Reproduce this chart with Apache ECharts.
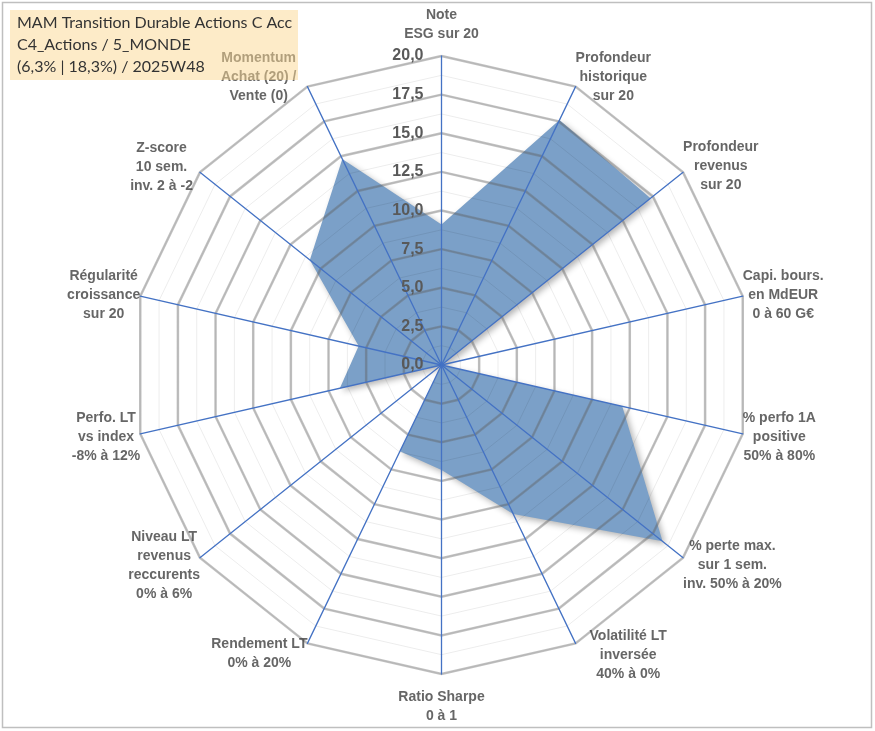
<!DOCTYPE html>
<html>
<head>
<meta charset="utf-8">
<script src="https://cdn.jsdelivr.net/npm/echarts@6/dist/echarts.min.js"></script>
<style>
html,body{margin:0;padding:0;background:#fff;}
#chart{width:875px;height:731px;}
</style>
</head>
<body>
<div id="chart"></div>
<script>
// Axes listed clockwise starting from the top
const categories = [
  'Note\nESG sur 20',
  'Profondeur\nhistorique\nsur 20',
  'Profondeur\nrevenus\nsur 20',
  'Capi. bours.\nen MdEUR\n0 à 60 G€',
  '% perfo 1A\npositive\n50% à 80%',
  '% perte max.\nsur 1 sem.\ninv. 50% à 20%',
  'Volatilité LT\ninversée\n40% à 0%',
  'Ratio Sharpe\n0 à 1',
  'Rendement LT\n0% à 20%',
  'Niveau LT\nrevenus\nreccurents\n0% à 6%',
  'Perfo. LT\nvs index\n-8% à 12%',
  'Régularité\ncroissance\nsur 20',
  'Z-score\n10 sem.\ninv. 2 à -2',
  'Momentum\nAchat (20) /\nVente (0)'
];
const scores = [9.1, 17.6, 17.3, 0, 12.0, 18.3, 10.7, 6.8, 6.2, 0, 6.75, 5.5, 10.9, 14.8];
const axisMin = 0, axisMax = 20, axisStep = 2.5;
const titleLines = ['MAM Transition Durable Actions C Acc', 'C4_Actions / 5_MONDE', '(6,3% | 18,3%) / 2025W48'];

// label layout (align, offset x, offset y) for each axis name, same order as categories
const nameLayout = [
  ['center', 0, -31], ['left', 0, -9], ['left', 0, -6], ['left', 0, -1],
  ['left', 0, 3.5], ['left', 0, 7.5], ['left', 14, 11.5], ['center', 0, 32.5],
  ['right', 0, 10.5], ['right', 0, 7.5], ['right', 0, 3.5], ['right', 0, -1.5],
  ['right', -7, -5.5], ['right', -11, -9]
];

// ECharts radar places indicators counter-clockwise: reverse all but the first
const order = [0].concat(categories.map((_, i) => i).slice(1).reverse());
const indicators = order.map(i => ({ name: categories[i], min: axisMin, max: axisMax }));
const seriesValues = order.map(i => scores[i]);
const N = categories.length;

const CX = 441.5, CY = 365, R = 309;
const FONT = 'Liberation Sans';

const radarBase = {
  center: [CX, CY], radius: R, startAngle: 90, shape: 'polygon',
  indicator: indicators,
  axisName: { show: false },
  axisTick: { show: false }, axisLabel: { show: false },
  splitArea: { show: false }
};

const chart = echarts.init(document.getElementById('chart'), null, { renderer: 'canvas' });
chart.setOption({
  backgroundColor: '#ffffff',
  animation: false,
  radar: [
    Object.assign({}, radarBase, {
      z: 1, splitNumber: (axisMax - axisMin) / (axisStep / 2),
      axisLine: { show: false },
      splitLine: { lineStyle: { color: 'rgba(0,0,0,0.075)', width: 1 } }
    }),
    Object.assign({}, radarBase, {
      z: 2, splitNumber: (axisMax - axisMin) / axisStep,
      axisLine: { show: false },
      splitLine: { lineStyle: { color: 'rgba(100,100,100,0.4)', width: 2.5 } }
    }),
    Object.assign({}, radarBase, {
      z: 3, splitNumber: (axisMax - axisMin) / axisStep,
      axisLine: { show: true, lineStyle: { color: '#4472C4', width: 1.3 } },
      splitLine: { show: false }
    })
  ],
  polar: { center: [CX, CY], radius: R },
  angleAxis: { show: false, type: 'value', startAngle: 90, clockwise: true, min: 0, max: 360 },
  radiusAxis: {
    type: 'value', min: axisMin, max: axisMax, interval: axisStep, z: 4,
    axisLine: { show: false }, axisTick: { show: false }, splitLine: { show: false },
    axisLabel: {
      formatter: v => v.toFixed(1).replace('.', ','),
      fontFamily: FONT, fontWeight: 'bold', fontSize: 16, color: '#595959', margin: 18
    }
  },
  series: [
    {
      type: 'radar', radarIndex: 0, z: 0, symbol: 'none',
      lineStyle: { width: 0 },
      areaStyle: { color: '#7BA0C8', opacity: 1, shadowBlur: 6, shadowOffsetX: 3, shadowOffsetY: 3, shadowColor: 'rgba(0,0,0,0.3)' },
      data: [{ value: seriesValues }]
    },
    {
      type: 'scatter', coordinateSystem: 'polar', z: 5, symbol: 'circle', symbolSize: 1, silent: true,
      itemStyle: { color: 'rgba(0,0,0,0)' },
      data: categories.map((c, i) => ({
        name: c,
        value: [axisMax, i * 360 / N],
        label: {
          align: nameLayout[i][0], verticalAlign: 'middle',
          offset: [nameLayout[i][1], nameLayout[i][2]]
        }
      })),
      label: {
        show: true, position: 'inside',
        formatter: p => p.name.split('\n').map(l => '{c|' + l + '}').join('\n'),
        fontFamily: FONT, fontWeight: 'bold', fontSize: 14, color: '#404040', lineHeight: 19,
        rich: { c: { align: 'center', fontFamily: FONT, fontWeight: 'bold', fontSize: 14, color: '#404040', lineHeight: 19 } }
      }
    }
  ],
  graphic: [
    { type: 'rect', z: 100, shape: { x: 2.5, y: 2.5, width: 869, height: 725 }, style: { fill: 'none', stroke: '#BFBFBF', lineWidth: 1.5 } },
    { type: 'rect', z: 100, shape: { x: 10, y: 10, width: 288, height: 70 }, style: { fill: 'rgba(251,215,145,0.5)' } },
    { type: 'text', z: 101, left: 17, top: 15, style: { text: titleLines[0], font: '16px Lato', fill: '#333333' } },
    { type: 'text', z: 101, left: 17, top: 37, style: { text: titleLines[1], font: '16px Lato', fill: '#333333' } },
    { type: 'text', z: 101, left: 17, top: 59, style: { text: titleLines[2], font: '16px Lato', fill: '#333333' } }
  ]
});
</script>
</body>
</html>
